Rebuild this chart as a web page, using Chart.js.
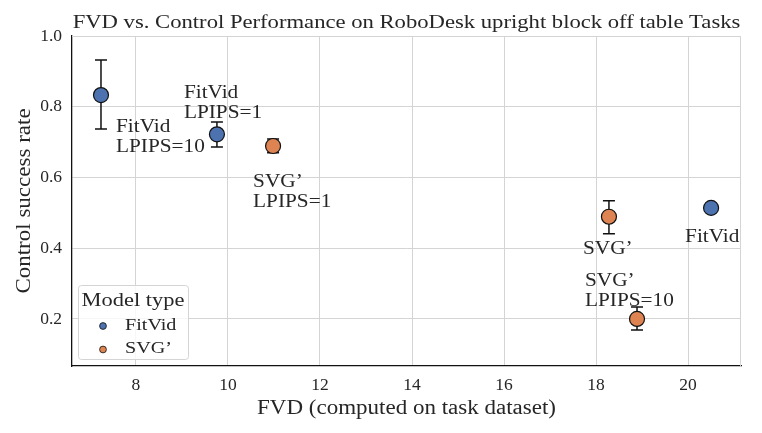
<!DOCTYPE html>
<html>
<head>
<meta charset="utf-8">
<script src="https://cdn.jsdelivr.net/npm/chart.js@4.4.0/dist/chart.umd.min.js"></script>
<style>
  html, body { margin: 0; padding: 0; background: #fff; }
  #wrap { width: 762px; height: 433px; }
</style>
</head>
<body>
<div id="wrap"><canvas id="chart"></canvas></div>
<script>
// values
const fitvidNames = [["FitVid", "LPIPS=10"], ["FitVid", "LPIPS=1"], ["FitVid"]];
const fitvidFvd = [7.24, 9.76, 20.5];
const fitvidRate = [0.833, 0.722, 0.514];
const fitvidLow = [0.737, 0.686, 0.514];
const fitvidHigh = [0.932, 0.757, 0.514];

const svgNames = [["SVG\u2019", "LPIPS=1"], ["SVG\u2019"], ["SVG\u2019", "LPIPS=10"]];
const svgFvd = [10.98, 18.28, 18.89];
const svgRate = [0.689, 0.489, 0.2];
const svgLow = [0.67, 0.441, 0.169];
const svgHigh = [0.709, 0.534, 0.234];

const xTicks = [8, 10, 12, 14, 16, 18, 20];
const yTicks = [0.2, 0.4, 0.6, 0.8, 1.0];

const FONT = "'Liberation Serif', serif";
const TEXT = "#262626";
// Computer Modern is wider than Times, so stretch our own text a bit
const STRETCH = 1.15;

// pixel offsets of each annotation from its marker (first line baseline)
const labelOffsets = [
  [[15, 37], [-33, -36], [-26, 34]],
  [[-20, 41], [-26, 37], [-52, -33]]
];

function points(xs, ys, lo, hi, names) {
  return xs.map((v, i) => ({ x: v, y: ys[i], low: lo[i], high: hi[i], name: names[i] }));
}

function wideText(ctx, str, x, y, align, rot) {
  ctx.save();
  ctx.translate(x, y);
  if (rot) ctx.rotate(rot);
  ctx.scale(STRETCH, 1);
  ctx.textAlign = align || "left";
  ctx.fillText(str, 0, 0);
  ctx.restore();
}

const errorBars = {
  id: "errorBars",
  beforeDatasetsDraw(chart) {
    const { ctx, scales: { x, y } } = chart;
    ctx.save();
    ctx.strokeStyle = "#111";
    ctx.lineWidth = 1.5;
    chart.data.datasets.forEach(ds => {
      ds.data.forEach(p => {
        if (p.low === p.high) return;
        const px = x.getPixelForValue(p.x);
        const yl = y.getPixelForValue(p.low);
        const yh = y.getPixelForValue(p.high);
        ctx.beginPath();
        ctx.moveTo(px, yl); ctx.lineTo(px, yh);
        ctx.moveTo(px - 6, yl); ctx.lineTo(px + 6, yl);
        ctx.moveTo(px - 6, yh); ctx.lineTo(px + 6, yh);
        ctx.stroke();
      });
    });
    ctx.restore();
  }
};

const extras = {
  id: "extras",
  beforeDatasetsDraw(chart) {
    const { ctx, chartArea: a } = chart;
    ctx.save();
    ctx.strokeStyle = "#d4d4d4";
    ctx.lineWidth = 1;
    ctx.beginPath();
    ctx.moveTo(a.right - 0.5, a.top); ctx.lineTo(a.right - 0.5, a.bottom);
    ctx.moveTo(a.left, a.top + 0.5); ctx.lineTo(a.right, a.top + 0.5);
    ctx.stroke();
    ctx.restore();
  },
  afterDatasetsDraw(chart) {
    const { ctx, chartArea: a, scales: { x, y } } = chart;
    ctx.save();
    ctx.textBaseline = "alphabetic";
    ctx.fillStyle = TEXT;

    // annotations
    ctx.font = "18.5px " + FONT;
    chart.data.datasets.forEach((ds, di) => {
      ds.data.forEach((p, i) => {
        const [dx, dy] = labelOffsets[di][i];
        const px = x.getPixelForValue(p.x) + dx;
        const py = y.getPixelForValue(p.y) + dy;
        p.name.forEach((line, li) => wideText(ctx, line, px, py + li * 20));
      });
    });

    // title and axis titles
    ctx.font = "19.7px " + FONT;
    wideText(ctx, "FVD vs. Control Performance on RoboDesk upright block off table Tasks",
      (a.left + a.right) / 2, 28, "center");
    ctx.font = "20px " + FONT;
    wideText(ctx, "FVD (computed on task dataset)", (a.left + a.right) / 2, 414, "center");
    wideText(ctx, "Control success rate", 29.5, (a.top + a.bottom) / 2, "center", -Math.PI / 2);

    // legend
    const bx = a.left + 6, by = a.bottom - 81, bw = 110, bh = 74;
    ctx.beginPath();
    ctx.roundRect(bx + 0.5, by + 0.5, bw, bh, 3);
    ctx.fillStyle = "rgba(255,255,255,0.8)";
    ctx.fill();
    ctx.strokeStyle = "#d4d4d4";
    ctx.lineWidth = 1;
    ctx.stroke();
    ctx.fillStyle = TEXT;
    ctx.font = "19.5px " + FONT;
    wideText(ctx, "Model type", bx + bw / 2, by + 21, "center");
    ctx.font = "17.5px " + FONT;
    chart.data.datasets.forEach((ds, di) => {
      const cy = by + 41 + di * 23.5;
      ctx.beginPath();
      ctx.arc(bx + 25, cy, 3.4, 0, Math.PI * 2);
      ctx.fillStyle = ds.backgroundColor;
      ctx.fill();
      ctx.strokeStyle = "#111";
      ctx.lineWidth = 0.8;
      ctx.stroke();
      ctx.fillStyle = TEXT;
      wideText(ctx, ds.label, bx + 47, cy + 3.5);
    });
    ctx.restore();
  }
};

new Chart(document.getElementById("chart"), {
  type: "scatter",
  data: {
    datasets: [
      {
        label: "FitVid",
        data: points(fitvidFvd, fitvidRate, fitvidLow, fitvidHigh, fitvidNames),
        backgroundColor: "#4c72b0",
        borderColor: "#111",
        borderWidth: 1.2,
        pointRadius: 7.5,
        pointHoverRadius: 7.5
      },
      {
        label: "SVG\u2019",
        data: points(svgFvd, svgRate, svgLow, svgHigh, svgNames),
        backgroundColor: "#dd8452",
        borderColor: "#111",
        borderWidth: 1.2,
        pointRadius: 7.5,
        pointHoverRadius: 7.5
      }
    ]
  },
  options: {
    responsive: true,
    maintainAspectRatio: false,
    animation: false,
    layout: { padding: { top: 36, right: 21, left: 0, bottom: 0 } },
    plugins: {
      legend: { display: false },
      tooltip: { enabled: false }
    },
    scales: {
      x: {
        type: "linear",
        min: 6.61,
        max: 21.15,
        afterFit(s) { s.height = 67; },
        afterBuildTicks(s) { s.ticks = xTicks.map(v => ({ value: v })); },
        grid: { color: "#d4d4d4", drawTicks: false },
        border: { color: "#111", width: 1.3 },
        ticks: { color: TEXT, padding: 9, font: { family: FONT, size: 17.5 }, maxRotation: 0 }
      },
      y: {
        min: 0.067,
        max: 1.0,
        afterFit(s) { s.width = 72; },
        afterBuildTicks(s) { s.ticks = yTicks.map(v => ({ value: v })); },
        grid: { color: "#d4d4d4", drawTicks: false },
        border: { color: "#111", width: 1.3 },
        ticks: {
          color: TEXT,
          padding: 10,
          font: { family: FONT, size: 17.5 },
          callback: v => Number(v).toFixed(1)
        }
      }
    }
  },
  plugins: [errorBars, extras]
});
</script>
</body>
</html>
